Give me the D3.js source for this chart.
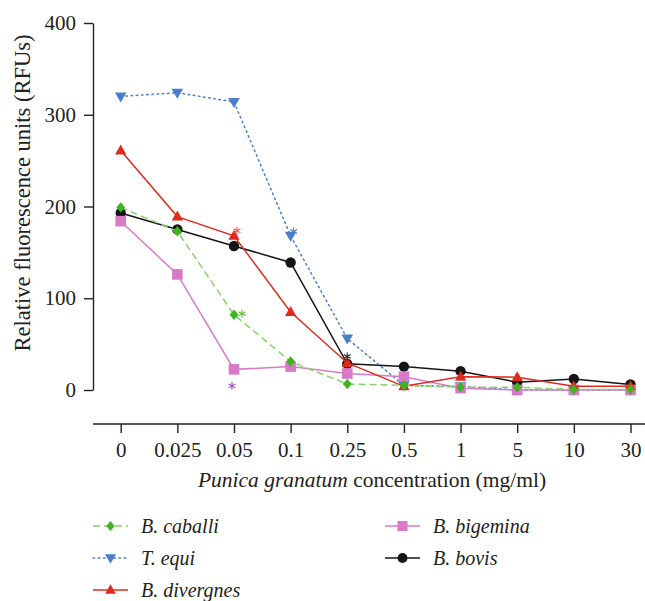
<!DOCTYPE html>
<html>
<head>
<meta charset="utf-8">
<script src="https://cdn.jsdelivr.net/npm/d3@7"></script>
<style>
  html, body { margin: 0; padding: 0; background: #fff; }
  svg { display: block; }
</style>
</head>
<body>
<svg id="chart" width="645" height="601"></svg>
<script>
// ---------- DATA ----------
const categories = ["0", "0.025", "0.05", "0.1", "0.25", "0.5", "1", "5", "10", "30"];
const yTicks = [0, 100, 200, 300, 400];

const bCaballi   = [199, 173, 82, 31, 6.5, 5, 3, 3, 0.5, 0.5];
const tEqui      = [320, 324, 314, 168, 56, 5, 4, 0, 0, 0];
const bDivergnes = [261, 189, 168, 85, 29.5, 4, 14.5, 14, 4, 4];
const bBigemina  = [184, 126, 22.5, 25.5, 18, 14.5, 2, 0, 0, 0];
const bBovis     = [193, 175, 157, 139, 28.5, 25.5, 20.5, 8.5, 12, 6];

const seriesNames = ["B. caballi", "T. equi", "B. divergnes", "B. bigemina", "B. bovis"];

// significance asterisks: category and value
const starCats   = ["0.05", "0.1", "0.05", "0.05", "0.25"];
const starValues = [173.5, 172.7, 83, 4.5, 36.5];

// ---------- STYLES ----------
const styles = [
  { line: "#86d466", fill: "#3cb61c", dash: "7,4",     shape: "diamond" },
  { line: "#4a7ec8", fill: "#4a7ec8", dash: "1.6,3.6", shape: "down" },
  { line: "#e02a1e", fill: "#e02a1e", dash: null,      shape: "up" },
  { line: "#d97ac8", fill: "#d97ac8", dash: null,      shape: "square" },
  { line: "#151515", fill: "#151515", dash: null,      shape: "circle" }
];
const starColors = ["#ee5a4e", "#4a7ec8", "#5cc03a", "#9a3cc4", "#222"];
const starDx = [3, 3, 8, -2, 0];
const allValues = [bCaballi, tEqui, bDivergnes, bBigemina, bBovis];

// ---------- SCALES ----------
const svg = d3.select("#chart");
const x = d3.scalePoint().domain(categories).range([120.7, 630.5]);
const y = d3.scaleLinear().domain([0, 400]).range([390, 23]);
const FONT = '"Liberation Serif", "Times New Roman", serif';

// ---------- AXES ----------
const yAxis = svg.append("g")
  .attr("transform", "translate(93,0)")
  .call(d3.axisLeft(y).tickValues(yTicks).tickSize(9).tickSizeOuter(0).tickPadding(8));
yAxis.attr("font-family", FONT);
yAxis.select(".domain").attr("stroke", "#222").attr("stroke-width", 1.4);
yAxis.selectAll(".tick line").attr("stroke", "#222").attr("stroke-width", 1.4);
yAxis.selectAll(".tick text").attr("font-size", 21).attr("fill", "#222");

const xAxis = svg.append("g")
  .attr("transform", "translate(0,424)")
  .call(d3.axisBottom(x).tickSize(9).tickPadding(9));
xAxis.attr("font-family", FONT);
xAxis.select(".domain").remove();
xAxis.append("line").attr("x1", 93).attr("x2", 645).attr("y1", 0).attr("y2", 0)
  .attr("stroke", "#222").attr("stroke-width", 1.4);
xAxis.selectAll(".tick line").attr("stroke", "#222").attr("stroke-width", 1.4);
xAxis.selectAll(".tick text").attr("font-size", 21).attr("fill", "#222");

// axis titles
const xt = svg.append("text").attr("x", 372).attr("y", 487).attr("fill", "#222")
  .attr("text-anchor", "middle").attr("font-size", 21.5).attr("font-family", FONT);
xt.append("tspan").attr("font-style", "italic").text("Punica granatum");
xt.append("tspan").text(" concentration (mg/ml)");

svg.append("text").attr("fill", "#222")
  .attr("transform", "translate(30,193) rotate(-90)")
  .attr("text-anchor", "middle").attr("font-size", 22.5).attr("font-family", FONT)
  .text("Relative fluorescence units (RFUs)");

// ---------- MARKERS ----------
function drawMarker(g, shape, cx, cy, color, scale = 1) {
  const s = scale;
  if (shape === "circle") {
    g.append("circle").attr("cx", cx).attr("cy", cy).attr("r", 5.2 * s).attr("fill", color);
  } else if (shape === "square") {
    g.append("rect").attr("x", cx - 5.3 * s).attr("y", cy - 5.3 * s)
      .attr("width", 10.6 * s).attr("height", 10.6 * s).attr("fill", color);
  } else if (shape === "up") {
    g.append("path").attr("d",
      `M${cx},${cy - 6 * s} L${cx + 5.6 * s},${cy + 4 * s} L${cx - 5.6 * s},${cy + 4 * s}Z`)
      .attr("fill", color);
  } else if (shape === "down") {
    g.append("path").attr("d",
      `M${cx},${cy + 6 * s} L${cx + 5.8 * s},${cy - 4 * s} L${cx - 5.8 * s},${cy - 4 * s}Z`)
      .attr("fill", color);
  } else if (shape === "diamond") {
    g.append("path").attr("d",
      `M${cx},${cy - 5.2 * s} L${cx + 4.4 * s},${cy} L${cx},${cy + 5.2 * s} L${cx - 4.4 * s},${cy}Z`)
      .attr("fill", color);
  }
}

// ---------- SERIES ----------
const drawOrder = [4, 1, 3, 2, 0];
const line = d3.line().x((d, i) => x(categories[i])).y(d => y(d));
const plot = svg.append("g");
drawOrder.forEach(si => {
  const st = styles[si];
  const g = plot.append("g");
  g.append("path").datum(allValues[si]).attr("d", line)
    .attr("fill", "none").attr("stroke", st.line).attr("stroke-width", 1.5)
    .attr("stroke-linecap", st.shape === "down" ? "round" : "butt")
    .attr("stroke-dasharray", st.dash);
  allValues[si].forEach((v, i) => drawMarker(g, st.shape, x(categories[i]), y(v), st.fill));
});

// ---------- ASTERISKS ----------
function drawStar(cx, cy, color) {
  const r = 4;
  const g = svg.append("g").attr("stroke", color).attr("stroke-width", 1.1);
  for (let k = 0; k < 3; k++) {
    const a = Math.PI / 2 + k * Math.PI / 3;
    g.append("line")
      .attr("x1", cx + r * Math.cos(a)).attr("y1", cy - r * Math.sin(a))
      .attr("x2", cx - r * Math.cos(a)).attr("y2", cy + r * Math.sin(a));
  }
}
starCats.forEach((c, k) => drawStar(x(c) + starDx[k], y(starValues[k]), starColors[k]));

// ---------- LEGEND ----------
const legendCols = [0, 0, 0, 1, 1];
const legendRows = [0, 1, 2, 0, 1];
const legend = svg.append("g");
seriesNames.forEach((name, si) => {
  const st = styles[si];
  const lx = legendCols[si] === 0 ? 93 : 385;
  const ly = 526 + legendRows[si] * 32;
  const g = legend.append("g");
  g.append("line").attr("x1", lx).attr("x2", lx + 35).attr("y1", ly).attr("y2", ly)
    .attr("stroke", st.line).attr("stroke-width", 1.5)
    .attr("stroke-linecap", st.shape === "down" ? "round" : "butt")
    .attr("stroke-dasharray", st.dash);
  drawMarker(g, st.shape, lx + 17.5, ly, st.fill, 0.95);
  g.append("text").attr("x", lx + 48).attr("y", ly + 6.5).attr("font-family", FONT)
    .attr("fill", "#222").attr("font-size", 20).attr("font-style", "italic").text(name);
});
</script>
</body>
</html>
